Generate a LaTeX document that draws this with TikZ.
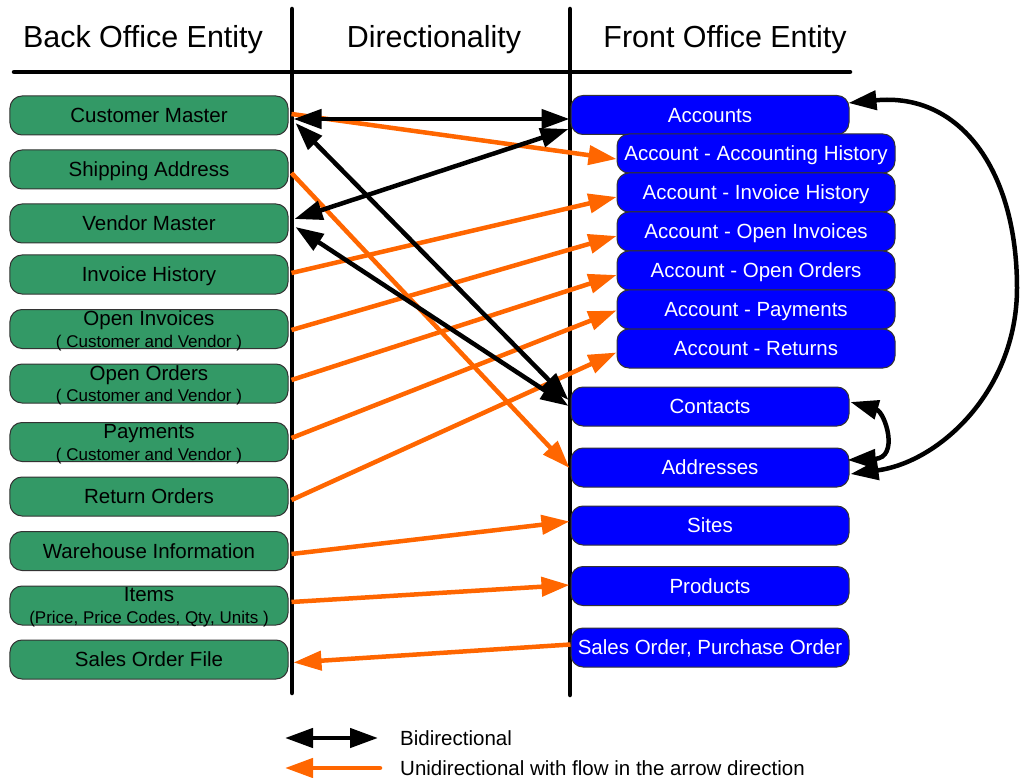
\documentclass[tikz,border=0pt]{standalone}
\usepackage{fontspec}
\setmainfont{Liberation Sans}
\usetikzlibrary{arrows.meta,calc}
\definecolor{boxgreen}{RGB}{51,153,102}
\definecolor{boxblue}{RGB}{0,0,255}
\definecolor{flow}{RGB}{255,102,0}

\tikzset{
  entity/.style={draw=black!80, line width=0.3mm, rounded corners=3.6mm,
    minimum width=83.4mm, minimum height=11.7mm, inner sep=0pt,
    text height=12.5pt, text depth=0pt, font=\fontsize{17.5}{21}\selectfont},
  backbox/.style={entity, fill=boxgreen, text=black},
  frontbox/.style={entity, fill=boxblue, text=white},
  maintext/.style={inner sep=0pt, anchor=base, font=\fontsize{17.5}{21}\selectfont},
  subtext/.style={inner sep=0pt, anchor=base, font=\fontsize{14.5}{17}\selectfont},
  header/.style={inner sep=0pt, text height=18.6pt, text depth=0pt,
    font=\fontsize{26}{31}\selectfont},
  legendtext/.style={inner sep=0pt, anchor=base west, font=\fontsize{17.5}{21}\selectfont},
  rulebar/.style={line width=1.35mm, line cap=round},
  bidir/.style={line width=1.35mm,
    {Triangle[length=8.4mm,width=5.7mm]}-{Triangle[length=8.4mm,width=5.7mm]}},
  unidir/.style={line width=1.35mm, draw=flow, fill=flow,
    -{Triangle[length=8.4mm,width=5.7mm]}},
}

\begin{document}
\begin{tikzpicture}[x=0.3mm,y=-0.3mm]
\useasboundingbox (0,0) rectangle (1021,778);

% column headings
\node[header] (hback) at (143,37) {Back Office Entity};
\node[header] (hdir) at (434,37) {Directionality};
\node[header] (hfront) at (725,37) {Front Office Entity};

% table rules
\coordinate (ruleL) at (14,72);
\coordinate (ruleR) at (850,72);
\coordinate (barAtop) at (292,9);
\coordinate (barAbot) at (292,693);
\coordinate (barBtop) at (570,9);
\coordinate (barBbot) at (570,695);
\draw[rulebar] (ruleL) -- (ruleR);
\draw[rulebar] (barAtop) -- (barAbot);
\draw[rulebar] (barBtop) -- (barBbot);

% back office entities
\node[backbox] (cm)  at (149,115.5) {Customer Master};
\node[backbox] (sa)  at (149,169.5) {Shipping Address};
\node[backbox] (vm)  at (149,223.5) {Vendor Master};
\node[backbox] (ih)  at (149,274.5) {Invoice History};
\node[backbox] (oi)  at (149,329) {};
\node[maintext] (oiA) at (149,325) {Open Invoices};
\node[subtext]  (oiB) at (149,347) {( Customer and Vendor )};
\node[backbox] (oo)  at (149,383.5) {};
\node[maintext] (ooA) at (149,380) {Open Orders};
\node[subtext]  (ooB) at (149,401) {( Customer and Vendor )};
\node[backbox] (pay) at (149,442) {};
\node[maintext] (payA) at (149,438) {Payments};
\node[subtext]  (payB) at (149,460) {( Customer and Vendor )};
\node[backbox] (ro)  at (149,496.5) {Return Orders};
\node[backbox] (wh)  at (149,551) {Warehouse Information};
\node[backbox] (it)  at (149,605.5) {};
\node[maintext] (itA) at (149,601) {Items};
\node[subtext]  (itB) at (149,623) {(Price, Price Codes, Qty, Units )};
\node[backbox] (sof) at (149,659.5) {Sales Order File};

% front office entities
\node[frontbox] (acc)   at (710,115)   {Accounts};
\node[frontbox] (acch)  at (756,153.5) {Account - Accounting History};
\node[frontbox] (ainv)  at (756,192.5) {Account - Invoice History};
\node[frontbox] (aoi)   at (756,231.5) {Account - Open Invoices};
\node[frontbox] (aoo)   at (756,270.5) {Account - Open Orders};
\node[frontbox] (apay)  at (756,309.5) {Account - Payments};
\node[frontbox] (aret)  at (756,348.5) {Account - Returns};
\node[frontbox] (con)   at (710,406.5) {Contacts};
\node[frontbox] (addr)  at (710,467.5) {Addresses};
\node[frontbox] (sites) at (710,525.5) {Sites};
\node[frontbox] (prod)  at (710,586)   {Products};
\node[frontbox] (so)    at (710,647.5) {Sales Order, Purchase Order};

% one-way flows
\draw[unidir] ($(cm.east)+(3,-1.5)$) -- ($(acch.west)+(0,5.5)$);
\draw[unidir] ($(sa.east)+(3,3.5)$) -- ($(addr.west)+(-1,0.5)$);
\draw[unidir] ($(ih.east)+(3,-1.5)$) -- ($(ainv.west)+(0,4.5)$);
\draw[unidir] ($(oi.east)+(3,1)$) -- ($(aoi.west)+(0,4.5)$);
\draw[unidir] ($(oo.east)+(3,-3.5)$) -- ($(aoo.west)+(0,4.5)$);
\draw[unidir] ($(pay.east)+(3,-4)$) -- ($(apay.west)+(0,1)$);
\draw[unidir] ($(ro.east)+(3,3.5)$) -- ($(aret.west)+(0,4)$);
\draw[unidir] ($(wh.east)+(3,3)$) -- ($(sites.west)+(-1,-4)$);
\draw[unidir] ($(it.east)+(3,-3.5)$) -- ($(prod.west)+(-1,-1)$);
\draw[unidir] ($(so.west)+(0,-3)$) -- ($(sof.east)+(5,3)$);

% two-way flows
\draw[bidir] ($(cm.east)+(5,3.5)$) -- ($(acc.west)+(-1,4)$);
\draw[bidir] ($(vm.east)+(6,-4.5)$) -- ($(acc.west)+(-2,14)$);
\draw[bidir] ($(cm.east)+(7,7.5)$) -- ($(con.west)+(-2,-6.5)$);
\draw[bidir] ($(vm.east)+(7,3.5)$) -- ($(con.west)+(-2,-0.5)$);

% two-way links among front office entities
\draw[bidir] ($(acc.east)+(-1,-12)$) .. controls (960,92) and (1017,170) .. (1017,288)
  .. controls (1017,390) and (940,462) .. ($(addr.east)+(1,6.5)$);
\draw[bidir] ($(con.east)+(1,-4.5)$) .. controls (885,412) and (900,458) .. ($(addr.east)+(-2,-7.5)$);

% legend
\coordinate (lgBa) at (285,738);
\coordinate (lgBb) at (378,738);
\coordinate (lgUa) at (380,768);
\coordinate (lgUb) at (285,768);
\draw[bidir] (lgBa) -- (lgBb);
\draw[unidir, line cap=round] (lgUa) -- (lgUb);
\node[legendtext] (lgB) at (400,745) {Bidirectional};
\node[legendtext] (lgU) at (400,775) {Unidirectional with flow in the arrow direction};
\end{tikzpicture}
\end{document}
